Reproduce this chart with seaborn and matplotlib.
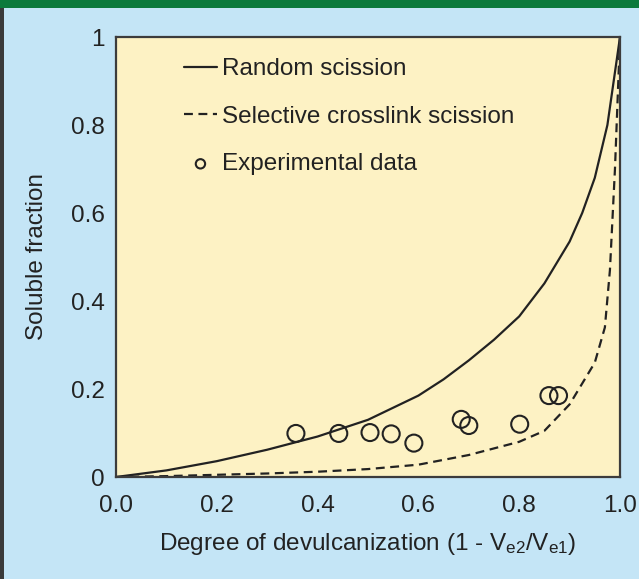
import pandas as pd
import numpy as np
import matplotlib
matplotlib.use("Agg")
import matplotlib.pyplot as plt
from matplotlib.patches import Rectangle
import seaborn as sns

# Data
random_x = [0.0, 0.1, 0.2, 0.3, 0.4, 0.5, 0.6, 0.65, 0.7, 0.75, 0.8, 0.85, 0.9, 0.925, 0.95, 0.975, 1.0]
random_y = [0.0, 0.015, 0.036, 0.062, 0.092, 0.13, 0.185, 0.222, 0.265, 0.312, 0.365, 0.44, 0.535, 0.6, 0.68, 0.80, 1.0]

selective_x = [0.0, 0.1, 0.2, 0.3, 0.4, 0.5, 0.6, 0.7, 0.8, 0.85, 0.9, 0.95, 0.97, 0.98, 0.99, 1.0]
selective_y = [0.0, 0.002, 0.005, 0.008, 0.012, 0.018, 0.028, 0.05, 0.08, 0.105, 0.165, 0.26, 0.34, 0.47, 0.70, 1.0]

exp_x = [0.357, 0.442, 0.504, 0.546, 0.591, 0.685, 0.700, 0.801, 0.859, 0.878]
exp_y = [0.099, 0.099, 0.101, 0.098, 0.077, 0.131, 0.117, 0.120, 0.185, 0.185]

x_ticks = [0.0, 0.2, 0.4, 0.6, 0.8, 1.0]
x_ticklabels = ["0.0", "0.2", "0.4", "0.6", "0.8", "1.0"]
y_ticks = [0, 0.2, 0.4, 0.6, 0.8, 1.0]
y_ticklabels = ["0", "0.2", "0.4", "0.6", "0.8", "1"]

random_df = pd.DataFrame({"x": random_x, "y": random_y})
selective_df = pd.DataFrame({"x": selective_x, "y": selective_y})
exp_df = pd.DataFrame({"x": exp_x, "y": exp_y})

sns.set_style("white")
plt.rcParams["font.family"] = ["Liberation Sans", "DejaVu Sans"]
plt.rcParams["mathtext.fontset"] = "custom"
plt.rcParams["mathtext.rm"] = "Liberation Sans"
plt.rcParams["mathtext.it"] = "Liberation Sans:italic"

ink = "#222222"
fsize = 17.5
fig = plt.figure(figsize=(6.39, 5.79), dpi=100, facecolor="#c4e5f6")
ax = fig.add_axes([116 / 639, 102 / 579, 504 / 639, 440 / 579])
ax.set_facecolor("#fdf2c4")

sns.lineplot(data=random_df, x="x", y="y", ax=ax, color=ink, linewidth=1.6,
             label="Random scission")
sns.lineplot(data=selective_df, x="x", y="y", ax=ax, color=ink, linewidth=1.6,
             linestyle=(0, (4, 2.5)), label="Selective crosslink scission")
sns.scatterplot(data=exp_df, x="x", y="y", ax=ax, marker="o", s=150,
                facecolor="none", edgecolor=ink, linewidth=1.5,
                label="Experimental data")

ax.set_xlim(0, 1)
ax.set_ylim(0, 1)
ax.set_xticks(x_ticks)
ax.set_xticklabels(x_ticklabels)
ax.set_yticks(y_ticks)
ax.set_yticklabels(y_ticklabels)
ax.tick_params(axis="both", length=0, labelsize=fsize, colors=ink)
ax.tick_params(axis="x", pad=13)
ax.tick_params(axis="y", pad=8)

ax.set_xlabel(r"Degree of devulcanization (1 - V$_{\mathrm{e2}}$/V$_{\mathrm{e1}}$)",
              fontsize=fsize, color=ink)
ax.set_ylabel("Soluble fraction", fontsize=fsize, color=ink)
ax.xaxis.set_label_coords(0.5, -0.122)
ax.yaxis.set_label_coords(-0.135, 0.5)

for s in ax.spines.values():
    s.set_color("#3c3c3c")
    s.set_linewidth(1.6)

leg = ax.legend(loc="upper left", bbox_to_anchor=(0.135, 0.952), frameon=False,
                fontsize=fsize, handlelength=1.35, handletextpad=0.2,
                labelspacing=1.05, borderpad=0, borderaxespad=0,
                markerscale=0.55)
for t in leg.get_texts():
    t.set_color(ink)

# green banner on top and dark frame on the left
fig.patches.append(Rectangle((0, 1 - 8 / 579), 1, 8 / 579, transform=fig.transFigure,
                             facecolor="#0b7a3c", edgecolor="none", zorder=0))
fig.patches.append(Rectangle((0, 0), 4 / 639, 1 - 8 / 579, transform=fig.transFigure,
                             facecolor="#3a3a3a", edgecolor="none", zorder=0))

fig.savefig("out.png", dpi=100, facecolor=fig.get_facecolor())
